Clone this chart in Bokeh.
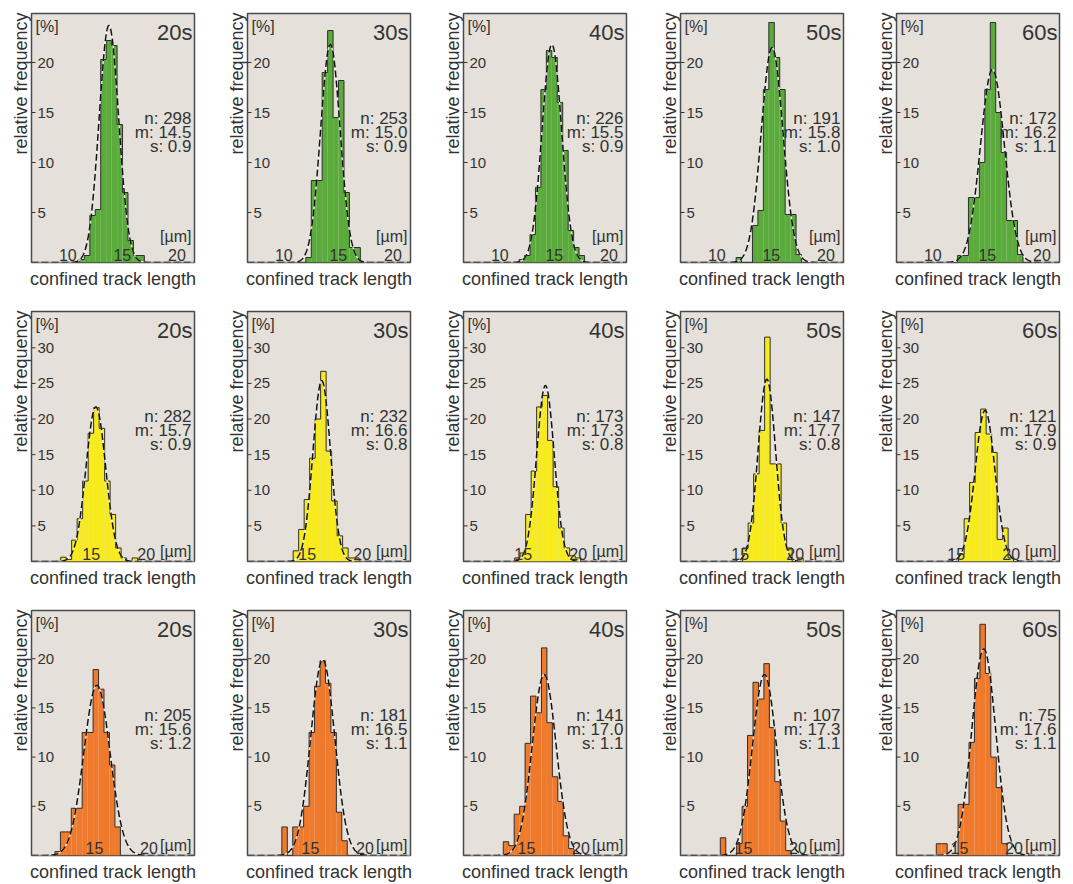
import numpy as np
from bokeh.plotting import figure
from bokeh.layouts import column, row
from bokeh.models import Range1d, FixedTicker, Title
from bokeh.core.properties import value
from bokeh.embed import file_html
from bokeh.resources import INLINE

# ---------------- data ----------------
times = ["20s", "30s", "40s", "50s", "60s"]
bin_width = 0.5  # µm

# row 1 (green)
green_first_center = [12.0, 13.0, 12.75, 12.75, 13.25]
green_freq = [
    [0.3, 0.7, 4.7, 5.3, 20.3, 22.2, 21.7, 13.8, 7.0, 2.2, 0.7, 0.7],
    [0.5, 8.2, 8.2, 19.0, 23.2, 14.5, 18.2, 7.0, 1.5, 1.5],
    [0.3, 0.7, 2.8, 7.5, 17.3, 21.2, 20.5, 16.0, 11.2, 3.2, 1.5, 0.7],
    [0.5, 0.0, 0.0, 3.7, 5.2, 17.3, 24.0, 20.5, 17.3, 4.8, 4.8, 0.8],
    [0.7, 0.7, 6.5, 6.5, 10.0, 17.3, 24.0, 15.0, 11.0, 4.2, 4.2, 0.8],
]
green_n = [298, 253, 226, 191, 172]
green_m = [14.5, 15.0, 15.5, 15.8, 16.2]
green_s = [0.9, 0.9, 0.9, 1.0, 1.1]
green_fit_peak = [23.7, 21.8, 21.8, 21.5, 19.3]

# row 2 (yellow)
yellow_first_center = [12.75, 14.25, 14.75, 15.75, 15.75]
yellow_freq = [
    [0.6, 0.3, 3.0, 6.0, 11.3, 18.0, 21.6, 18.7, 11.3, 6.6, 1.9, 0.5, 0.0, 0.5],
    [1.5, 4.5, 8.7, 14.5, 20.0, 26.7, 15.5, 8.5, 3.6, 1.9, 0.5, 0.5],
    [0.5, 1.2, 6.6, 12.7, 21.7, 23.3, 17.0, 10.5, 4.7, 1.9, 0.8, 0.5],
    [1.9, 5.4, 12.3, 18.4, 31.5, 13.7, 13.7, 5.4, 1.9, 0.0, 0.5],
    [1.0, 6.0, 11.1, 18.1, 21.4, 17.9, 15.3, 3.1, 4.7, 0.5],
]
yellow_n = [282, 232, 173, 147, 121]
yellow_m = [15.7, 16.6, 17.3, 17.7, 17.9]
yellow_s = [0.9, 0.8, 0.8, 0.8, 0.9]
yellow_fit_peak = [21.7, 25.4, 24.7, 25.6, 21.2]

# row 3 (orange)
orange_first_center = [12.0, 13.0, 13.5, 13.5, 13.5]
orange_freq = [
    [0.4, 2.4, 2.4, 4.8, 4.8, 12.5, 12.5, 18.9, 16.9, 12.5, 9.2, 2.9],
    [2.9, 0.0, 2.9, 2.9, 5.0, 12.5, 17.2, 19.8, 17.5, 12.5, 4.4, 1.5],
    [1.4, 1.0, 4.2, 5.0, 11.4, 16.2, 14.5, 21.1, 13.5, 8.0, 5.5, 2.0, 0.7],
    [1.8, 0.0, 0.0, 1.2, 5.0, 12.2, 17.6, 15.9, 19.5, 13.0, 7.5, 3.5, 0.5],
    [1.2, 1.2, 0.0, 0.0, 5.2, 5.2, 11.5, 18.0, 23.5, 18.5, 10.0, 6.9, 1.2],
]
orange_n = [205, 181, 141, 107, 75]
orange_m = [15.6, 16.5, 17.0, 17.3, 17.6]
orange_s = [1.2, 1.1, 1.1, 1.1, 1.1]
orange_fit_peak = [17.3, 19.9, 18.4, 18.4, 21.0]

row1_yticks = [5, 10, 15, 20]
row2_yticks = [5, 10, 15, 20, 25, 30]
row3_yticks = [5, 10, 15, 20]
row1_xticks = [10, 15, 20]
row23_xticks = [15, 20]

# ---------------- styling ----------------
FONT = "Liberation Sans"
TXT = "#333333"
BG = "#e5e1da"
colors = ["#5aab3b", "#f7eb1e", "#ef7a2c"]

col_widths = [216, 216, 217, 216, 200]
row_heights = [298, 299, 287]
bottom_borders = [36, 36, 25]
FRAME_W = 163


def make_panel(r, c, color, xr, yr, first_center, freq, n, m, s, fit_peak,
               yticks, xticks, xtick_dx):
    w = col_widths[c]
    h = row_heights[r]
    p = figure(width=w, height=h, x_range=Range1d(*xr), y_range=Range1d(*yr),
               output_backend="svg", toolbar_location=None,
               min_border_left=31, min_border_right=w - 31 - FRAME_W,
               min_border_top=13, min_border_bottom=bottom_borders[r])
    p.background_fill_color = BG
    p.border_fill_color = "white"
    p.outline_line_color = "#4a4a4a"
    p.outline_line_width = 1.5
    p.grid.visible = False

    ya = p.yaxis[0]
    ya.ticker = FixedTicker(ticks=[])
    ya.major_tick_in = 0
    ya.major_tick_out = 0
    ya.minor_tick_line_color = None
    ya.axis_line_color = None
    ya.major_label_standoff = 0

    xa = p.xaxis[0]
    xa.ticker = FixedTicker(ticks=[])
    xa.major_tick_in = 0
    xa.major_tick_out = 0
    xa.minor_tick_line_color = None
    xa.axis_line_color = None
    xa.major_label_standoff = 0
    xa.axis_label = "confined track length"
    xa.axis_label_text_font = FONT
    xa.axis_label_text_font_size = "18px"
    xa.axis_label_text_font_style = "normal"
    xa.axis_label_text_color = TXT
    xa.axis_label_standoff = 6

    # y axis title, aligned with the top of the box
    p.add_layout(Title(text="relative frequency", align="right",
                       text_font=FONT, text_font_size="18px",
                       text_font_style="normal", text_color=TXT,
                       standoff=2, offset=-1), "left")

    x0, x1 = xr
    y1 = yr[1]
    px_x = (x1 - x0) / FRAME_W  # data units per pixel along x

    centers = [first_center + i * bin_width for i in range(len(freq))]
    lefts = [cc - bin_width / 2 for cc in centers]
    rights = [cc + bin_width / 2 for cc in centers]
    p.quad(left=lefts, right=rights, bottom=0, top=freq,
           fill_color=color, line_color=None)

    # step outline of the histogram
    sx = [lefts[0]]
    sy = [0]
    for L, R, f in zip(lefts, rights, freq):
        sx += [L, R]
        sy += [f, f]
    sx.append(rights[-1])
    sy.append(0)
    p.line(sx, sy, line_color="#2e2e2e", line_width=1)

    # gaussian fit (dashed)
    gx = np.linspace(x0, x1, 400)
    gy = fit_peak * np.exp(-(gx - m) ** 2 / (2 * s ** 2))
    p.line(gx, gy, line_color="white", line_width=1.4, line_alpha=0.8)
    p.line(gx, gy, line_color="#111111", line_width=1.5, line_dash="7 3")

    # y ticks (inward) and labels (inside)
    p.segment(x0=[x0] * len(yticks), y0=yticks,
              x1=[x0 + 4 * px_x] * len(yticks), y1=yticks,
              line_color=TXT, line_width=1)
    p.text(x=[x0] * len(yticks), y=yticks, text=[str(t) for t in yticks],
           x_offset=6, text_align="left", text_baseline="middle",
           text_font=value(FONT), text_font_size="15px", text_color=TXT)
    # x tick labels (inside, at bottom)
    p.text(x=xticks, y=[0] * len(xticks), text=[str(t) for t in xticks],
           x_offset=xtick_dx, y_offset=-2, text_align="center",
           text_baseline="bottom", text_font=value(FONT),
           text_font_size="16px", text_color=TXT)
    um_dy = -18 if r == 0 else -2
    p.text(x=[x1], y=[0], text=["[µm]"], x_offset=-3, y_offset=um_dy,
           text_align="right", text_baseline="bottom", text_font=value(FONT),
           text_font_size="16px", text_color=TXT)
    # unit of y
    p.text(x=[x0], y=[y1], text=["[%]"], x_offset=4, y_offset=4,
           text_align="left", text_baseline="top", text_font=value(FONT),
           text_font_size="16px", text_color=TXT)
    # time label
    p.text(x=[x1], y=[y1], text=[times[c]], x_offset=-2, y_offset=6,
           text_align="right", text_baseline="top", text_font=value(FONT),
           text_font_size="22px", text_color=TXT)
    # statistics
    stats = [f"n: {n}", f"m: {m:.1f}", f"s: {s:.1f}"]
    for k, st in enumerate(stats):
        p.text(x=[x1], y=[y1], text=[st], x_offset=-3, y_offset=105 + 14 * k,
               text_align="right", text_baseline="middle",
               text_font=value(FONT), text_font_size="17px", text_color=TXT)
    return p


rows_spec = [
    (colors[0], (7.4, 22.35), (0, 24.9), green_first_center, green_freq, green_n,
     green_m, green_s, green_fit_peak, row1_yticks, row1_xticks, 8),
    (colors[1], (9.85, 24.67), (0, 35.1), yellow_first_center, yellow_freq, yellow_n,
     yellow_m, yellow_s, yellow_fit_peak, row2_yticks, row23_xticks, 3),
    (colors[2], (9.6, 24.55), (0, 24.9), orange_first_center, orange_freq, orange_n,
     orange_m, orange_s, orange_fit_peak, row3_yticks, row23_xticks, 4),
]

grid_rows = []
for r, spec in enumerate(rows_spec):
    (color, xr, yr, fc, fq, nn, mm, ss, fp, yt, xt, dx) = spec
    figs = []
    for c in range(5):
        p = make_panel(r, c, color, xr, yr, fc[c], fq[c], nn[c], mm[c], ss[c],
                       fp[c], yt, xt, dx)
        figs.append(p)
    grid_rows.append(row(*figs, spacing=0))

layout = column(*grid_rows, spacing=0)
open("out.html", "w").write(file_html(layout, INLINE))
